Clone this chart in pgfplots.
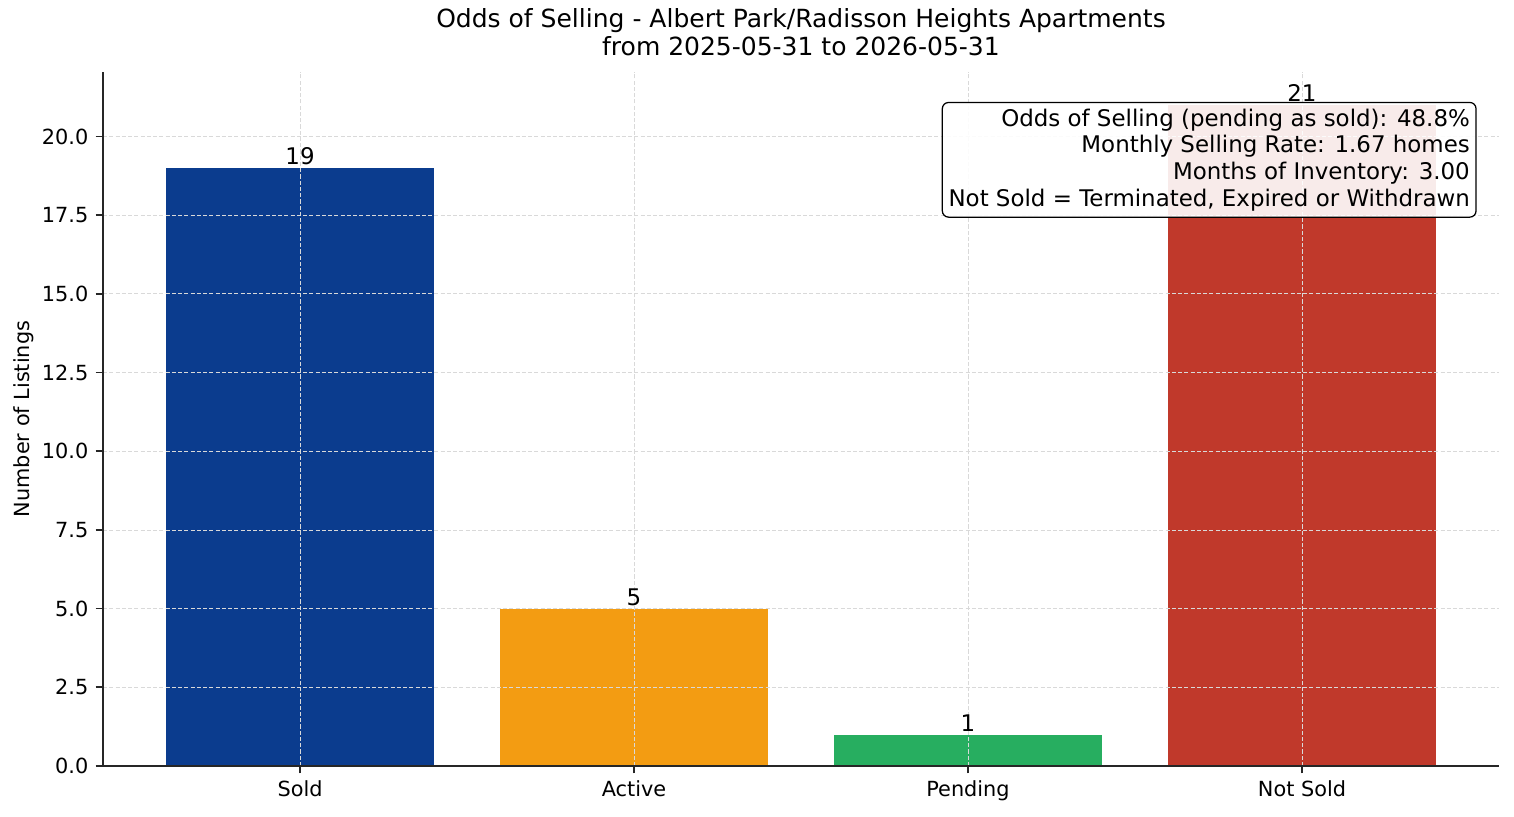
\documentclass[border=0pt]{standalone}
\usepackage{pgfplots}
\pgfplotsset{compat=1.18}
\usepackage{fontspec}
\setmainfont{DejaVu Sans}
\definecolor{soldblue}{HTML}{0B3C8E}
\definecolor{activeorange}{HTML}{F39C12}
\definecolor{pendinggreen}{HTML}{27AE60}
\definecolor{notsoldred}{HTML}{C0392B}
\definecolor{spine}{HTML}{262626}
\begin{document}
\begin{tikzpicture}
\path (-49.44pt,-24pt) rectangle (677.28pt,367.68pt);
\begin{axis}[
    at={(0,0)}, anchor=south west,
    scale only axis,
    width=670.08pt, height=333.12pt,
    ybar, bar width=0.8,
    xmin=-0.59, xmax=3.59,
    ymin=0, ymax=22.05,
    xtick={0,1,2,3},
    xticklabels={Sold,Active,Pending,Not Sold},
    ytick={0,2.5,5,7.5,10,12.5,15,17.5,20},
    yticklabel style={/pgf/number format/.cd,fixed,fixed zerofill,precision=1},
    /pgf/number format/assume math mode=true,
    ticklabel style={font=\fontsize{10}{12}\selectfont},
    axis x line*=bottom, axis y line*=left,
    axis line style={spine, line width=0.8pt},
    tick style={spine, line width=0.8pt},
    tick align=outside, major tick length=3.5pt,
    xtick pos=bottom, ytick pos=left,
    grid=major,
    major grid style={gray!30, dash pattern=on 2pt off 1pt, line width=0.4pt},
    axis on top,
    ylabel={Number of Listings},
    ylabel style={font=\fontsize{10}{12}\selectfont, yshift=-3pt},
    title={Odds of Selling - Albert Park/Radisson Heights Apartments\\from 2025-05-31 to 2026-05-31},
    title style={font=\fontsize{12}{13.5}\selectfont, align=center, yshift=-2pt},
    nodes near coords,
    every node near coord/.append style={font=\fontsize{11}{13}\selectfont, text=black, yshift=-2pt},
]
\addplot[fill=soldblue, draw=none, bar shift=0pt] coordinates {(0,19)};
\addplot[fill=activeorange, draw=none, bar shift=0pt] coordinates {(1,5)};
\addplot[fill=pendinggreen, draw=none, bar shift=0pt] coordinates {(2,1)};
\addplot[fill=notsoldred, draw=none, bar shift=0pt] coordinates {(3,21)};
\coordinate (statsbox) at (rel axis cs:0.984,0.957);
\end{axis}
\node[anchor=north east, draw=black, line width=0.6pt, rounded corners=3pt,
      fill=white, fill opacity=0.9, text opacity=1, align=right,
      inner sep=3pt, font=\fontsize{11}{12.8}\selectfont]
  at (statsbox)
  {Odds of Selling (pending as sold): 48.8\%\\Monthly Selling Rate: 1.67 homes\\Months of Inventory: 3.00\\Not Sold = Terminated, Expired or Withdrawn};
\end{tikzpicture}
\end{document}
